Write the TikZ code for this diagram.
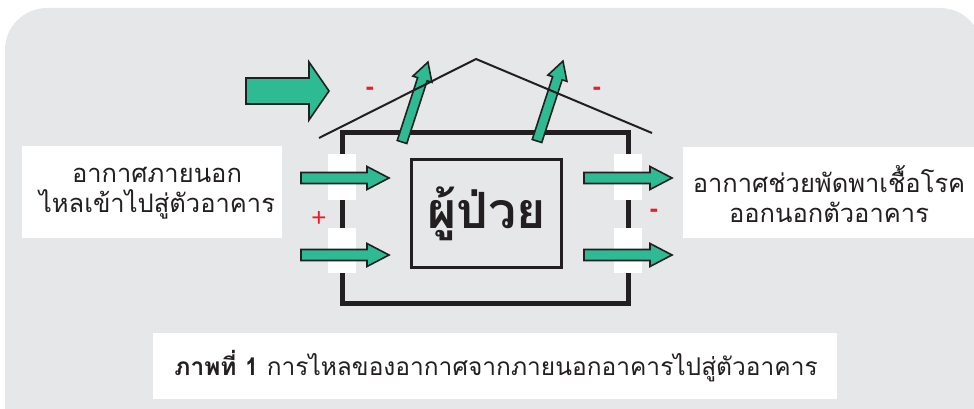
\documentclass[tikz,border=0pt]{standalone}
\usepackage{fontspec}
\newfontfamily\thai[Script=Thai]{Loma}
\newfontfamily\lat{Liberation Sans}
\definecolor{bggray}{RGB}{230,231,232}
\definecolor{teal1}{RGB}{46,187,148}
\definecolor{ink}{RGB}{35,31,32}
\definecolor{redm}{RGB}{237,28,36}
\newcommand\fatarrow[7]{%
  \begin{scope}[shift={(#1,#2)},rotate=#3]
    \draw[arr] (0,-#6) -- (#4-#5,-#6) -- (#4-#5,-#7) -- (#4,0) -- (#4-#5,#7) -- (#4-#5,#6) -- (0,#6) -- cycle;
  \end{scope}}
\begin{document}
\begin{tikzpicture}[x=1pt,y=-1pt,
  arr/.style={fill=teal1,draw=ink,line width=1.6pt,line join=miter},
  boxtxt/.style={font=\thai\fontsize{25.5}{30}\selectfont,text=ink,align=center},
  sign/.style={font=\lat\fontsize{26}{26}\selectfont,text=redm,inner sep=0pt},
  minus/.style={sign,font=\lat\bfseries\fontsize{26}{26}\selectfont}]
\useasboundingbox (0,0) rectangle (974,409);
% background
\fill[bggray,rounded corners=42pt] (5,8) rectangle (982,409);
\fill[bggray] (5,300) rectangle (974,409);
% caption
\fill[white] (153,333) rectangle (837,399);
\node[font=\thai\fontsize{24.5}{28}\selectfont,text=ink,anchor=center] (cap) at (496,366)
  {\textbf{ภาพที่ 1} การไหลของอากาศจากภายนอกอาคารไปสู่ตัวอาคาร};
% side text boxes
\fill[white] (22,146) rectangle (282,238);
\node[boxtxt] (lefttxt) at (157,193) {อากาศภายนอก\\ไหลเข้าไปสู่ตัวอาคาร};
\fill[white] (683,147) rectangle (974,238);
\node[boxtxt] (righttxt) at (829,194) {อากาศช่วยพัดพาเชื้อโรค\\ออกนอกตัวอาคาร};
% house wall
\draw[ink,line width=5pt] (342,133) rectangle (628,303);
% windows
\fill[white] (328,154) rectangle (356,200);
\fill[white] (328,228) rectangle (356,273);
\fill[white] (614,154) rectangle (642,200);
\fill[white] (614,228) rectangle (642,273);
% patient box
\node[draw=ink,line width=3.5pt,minimum width=150pt,minimum height=108pt,inner sep=0pt,
  font=\thai\bfseries\fontsize{50}{50}\selectfont,text=ink] (patient) at (486.5,213.5) {ผู้ป่วย};
% arrows
\fatarrow{246}{91}{0}{83}{20}{13}{29}
\fatarrow{301}{178}{0}{88}{22}{5.5}{11.5}
\fatarrow{301}{255}{0}{88}{22}{5.5}{11.5}
\fatarrow{584}{178}{0}{88}{22}{5.5}{11.5}
\fatarrow{584}{255}{0}{88}{22}{5.5}{11.5}
\fatarrow{402}{142}{72}{84}{18}{5}{10}
\fatarrow{537}{141}{72}{84}{18}{5}{10}
% roof
\draw[ink,line width=2pt] (319,138) -- (476,59) -- (652,133);
% signs
\node[minus] (m1) at (370,91) {-};
\node[minus] (m2) at (597,91) {-};
\node[sign] (p1) at (319,219) {+};
\node[minus] (m3) at (654,213) {-};
\end{tikzpicture}
\end{document}
